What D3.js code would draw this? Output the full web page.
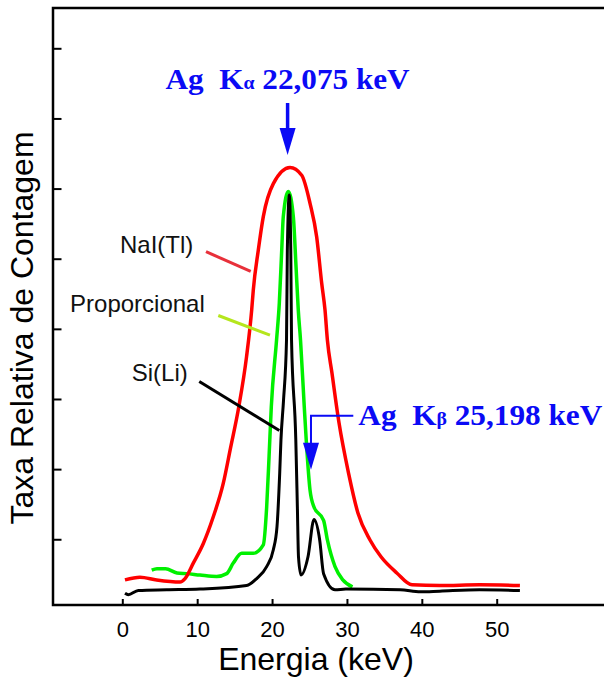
<!DOCTYPE html>
<html>
<head>
<meta charset="utf-8">
<script src="https://cdn.jsdelivr.net/npm/d3@7"></script>
<style>
  body { margin: 0; background: #fff; }
  svg { display: block; }
</style>
</head>
<body>
<svg id="chart"></svg>
<script>
// Tick values (x labelled in keV, y ticks unlabelled)
const xTicks = [0, 10, 20, 30, 40, 50];
const yTicks = [1, 2, 3, 4, 5, 6, 7, 8];

// Spectra: [energy (keV), relative count rate]
const naiTl = [
  [0.36, 0.42], [2.36, 0.46], [4.59, 0.42], [7.71, 0.39], [8.38, 0.44],
  [9.48, 0.66], [10.82, 0.94], [12.15, 1.32], [13.49, 1.80], [14.45, 2.30],
  [15.56, 2.89], [16.59, 3.60], [17.28, 4.27], [17.49, 4.55], [18.16, 5.12],
  [18.83, 5.60], [20.17, 6.07], [22.4, 6.30], [23.96, 6.19], [25.07, 5.79],
  [25.96, 5.31], [26.63, 4.65], [27.07, 4.27], [27.39, 3.84], [28.0, 3.37],
  [28.94, 2.66], [30.22, 1.94], [31.48, 1.37], [33.08, 0.99], [34.55, 0.75],
  [36.66, 0.52], [38.69, 0.35], [42.4, 0.34], [47.7, 0.35], [53.1, 0.34]
];

const proporcional = [
  [3.93, 0.56], [4.63, 0.58], [5.78, 0.58], [7.3, 0.52], [8.6, 0.51],
  [10.38, 0.49], [12.6, 0.47], [13.94, 0.51], [14.82, 0.66], [15.95, 0.80],
  [17.49, 0.80], [18.83, 0.92], [19.28, 1.46], [19.6, 2.18], [19.9, 2.89],
  [20.6, 3.84], [20.97, 4.37], [21.29, 5.12], [21.5, 5.60], [22.17, 5.96],
  [22.84, 5.60], [23.2, 4.89], [23.5, 4.27], [23.8, 3.84], [24.3, 2.89],
  [24.56, 2.42], [25.07, 1.70], [25.6, 1.46], [26.88, 1.27], [27.39, 0.99],
  [28.41, 0.61], [29.45, 0.42], [30.74, 0.32]
];

const siLi = [
  [0.36, 0.23], [0.8, 0.21], [2.14, 0.27], [5.93, 0.28], [10.38, 0.29],
  [16.6, 0.34], [17.95, 0.44], [19.28, 0.61], [20.17, 0.85], [20.66, 1.18],
  [21.02, 1.94], [21.19, 2.42], [21.53, 2.98], [21.93, 3.84], [22.04, 5.12],
  [22.3, 5.91], [22.5, 5.12], [22.6, 3.84], [23.17, 2.42], [23.38, 1.46],
  [23.53, 0.75], [23.87, 0.49], [24.8, 0.75], [25.6, 1.28], [26.36, 0.99],
  [26.88, 0.51], [28.41, 0.28], [29.87, 0.29], [37.1, 0.28], [39.8, 0.25],
  [42.4, 0.26], [47.7, 0.28], [53.1, 0.27]
];

// Detector labels with leader lines (data units)
const labels = [
  { text: "NaI(Tl)", x: -0.31, y: 5.08, from: [11.18, 5.10], to: [17.15, 4.82], color: "#e8303a", size: 24 },
  { text: "Proporcional", x: -6.98, y: 4.24, from: [12.82, 4.19], to: [19.72, 3.91], color: "#b5e61d", size: 24 },
  { text: "Si(Li)", x: 1.26, y: 3.25, from: [10.28, 3.25], to: [20.97, 2.55], color: "#000", size: 24 }
];

// Ag lines
const agKa = { energy: 22.075, label: "22,075 keV" };
const agKb = { energy: 25.198, label: "25,198 keV" };

const width = 604, height = 678;
const plot = { left: 53, top: 8, right: 604, bottom: 605 };

const x = d3.scaleLinear().domain([0, 50]).range([122.3, 496.7]);
const y = d3.scaleLinear().domain([0, 8]).range([609.4, 48.3]);

const svg = d3.select("#chart").attr("width", width).attr("height", height);

const sans = "'Liberation Sans', Arial, sans-serif";
const serif = "'Liberation Serif', 'Times New Roman', serif";
const blue = "#0a0af5";

// Axes (ticks point inward)
const xAxis = svg.append("g")
    .attr("transform", `translate(0,${plot.bottom})`)
    .call(d3.axisBottom(x).tickValues(xTicks).tickSize(-6).tickFormat(d3.format("d")));
xAxis.select(".domain").remove();
xAxis.selectAll(".tick line").attr("stroke", "#000").attr("stroke-width", 2);
xAxis.selectAll(".tick text")
    .attr("y", 32).attr("dy", 0)
    .style("font-family", sans).style("font-size", "22px").attr("fill", "#000");

const yAxis = svg.append("g")
    .attr("transform", `translate(${plot.left},0)`)
    .call(d3.axisLeft(y).tickValues(yTicks).tickSize(-8.5).tickFormat(""));
yAxis.select(".domain").remove();
yAxis.selectAll(".tick line").attr("stroke", "#000").attr("stroke-width", 2);

// Frame: left, bottom and top lines
svg.append("path")
    .attr("d", `M${plot.right},${plot.top}H${plot.left}V${plot.bottom}H${plot.right}`)
    .attr("fill", "none")
    .attr("stroke", "#000")
    .attr("stroke-width", 2.5);

// Axis titles
svg.append("text")
    .attr("x", 316).attr("y", 670)
    .attr("text-anchor", "middle")
    .style("font-family", sans).style("font-size", "32px")
    .text("Energia (keV)");

svg.append("text")
    .attr("transform", "translate(33,328) rotate(-90)")
    .attr("text-anchor", "middle")
    .style("font-family", sans).style("font-size", "32px")
    .text("Taxa Relativa de Contagem");

// Spectra
const line = d3.line()
    .x(d => x(d[0]))
    .y(d => y(d[1]))
    .curve(d3.curveMonotoneX);

[
  { data: proporcional, color: "#00f000", w: 3.5 },
  { data: siLi, color: "#000", w: 3 },
  { data: naiTl, color: "#ff0000", w: 3.5 }
].forEach(s => {
  svg.append("path")
      .datum(s.data)
      .attr("d", line)
      .attr("fill", "none")
      .attr("stroke", s.color)
      .attr("stroke-width", s.w)
      .attr("stroke-linejoin", "round");
});

// Detector labels
labels.forEach(l => {
  svg.append("line")
      .attr("x1", x(l.from[0])).attr("y1", y(l.from[1]))
      .attr("x2", x(l.to[0])).attr("y2", y(l.to[1]))
      .attr("stroke", l.color)
      .attr("stroke-width", 3);
  svg.append("text")
      .attr("x", x(l.x)).attr("y", y(l.y))
      .style("font-family", sans).style("font-size", l.size + "px")
      .attr("fill", "#111")
      .text(l.text);
});

// Arrow head helper: tip at (cx, tipY), pointing down
function arrowHead(cx, tipY, w, h) {
  svg.append("path")
      .attr("d", `M${cx - w / 2},${tipY - h}L${cx + w / 2},${tipY - h}L${cx},${tipY}Z`)
      .attr("fill", blue);
}

function peakLabel(px, py, anchor, greek, value) {
  const t = svg.append("text")
      .attr("x", px).attr("y", py)
      .attr("text-anchor", anchor)
      .attr("textLength", 244)
      .attr("lengthAdjust", "spacingAndGlyphs")
      .style("font-family", serif).style("font-weight", "bold")
      .style("font-size", "30px").style("white-space", "pre")
      .attr("fill", blue);
  t.append("tspan").text("Ag  K");
  t.append("tspan").style("font-size", "19px").text(greek);
  t.append("tspan").text(" " + value);
}

// Ag K-alpha
const kaX = x(agKa.energy);
svg.append("line")
    .attr("x1", kaX).attr("x2", kaX)
    .attr("y1", y(7.22)).attr("y2", y(6.48) - 20)
    .attr("stroke", blue).attr("stroke-width", 3.5);
arrowHead(kaX, y(6.48), 16, 27);
peakLabel(kaX, y(7.42), "middle", "α", agKa.label);

// Ag K-beta
const kbX = x(agKb.energy);
svg.append("path")
    .attr("d", `M${x(30.85)},${y(2.76)}H${kbX}V${y(1.99) - 20}`)
    .attr("fill", "none")
    .attr("stroke", blue).attr("stroke-width", 2);
arrowHead(kbX, y(1.99), 16, 27);
peakLabel(x(31.52), y(2.63), "start", "β", agKb.label);
</script>
</body>
</html>
